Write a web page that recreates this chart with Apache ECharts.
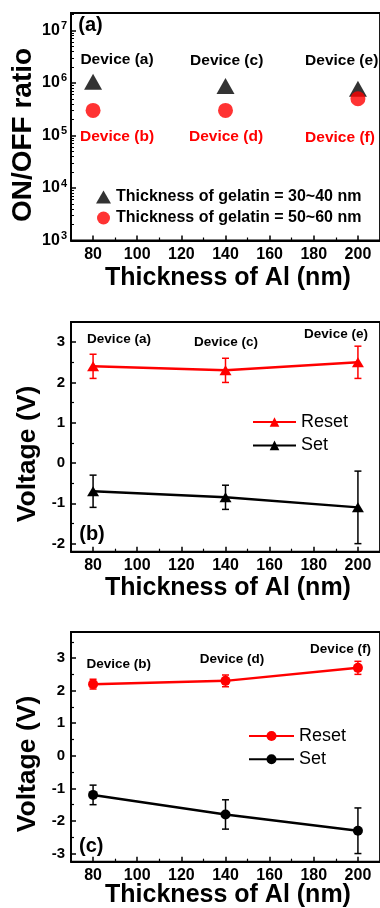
<!DOCTYPE html>
<html>
<head>
<meta charset="utf-8">
<script src="https://cdn.jsdelivr.net/npm/echarts@6/dist/echarts.min.js"></script>
<style>
  html, body { margin: 0; padding: 0; background: #fff; }
  #chart { width: 380px; height: 908px; }
</style>
</head>
<body>
<div id="chart"></div>
<script>
// Al electrode thickness (nm) of the three device pairs
const thickness = [80, 140, 200];

// (a) ON/OFF ratio
const ratioGelatinThin = [1.05e6, 8.8e5, 7.8e5];   // gelatin 30~40 nm
const ratioGelatinThick = [3.0e5, 3.0e5, 5.0e5];  // gelatin 50~60 nm

// (b) switching voltages, devices (a), (c), (e)
const resetB = [2.4, 2.3, 2.5];
const resetBErr = [0.3, 0.3, 0.4];
const setB = [-0.7, -0.85, -1.1];
const setBErr = [0.4, 0.3, 0.9];

// (c) switching voltages, devices (b), (d), (f)
const resetC = [2.2, 2.3, 2.7];
const resetCErr = [0.15, 0.18, 0.2];
const setC = [-1.2, -1.8, -2.3];
const setCErr = [0.3, 0.45, 0.7];

// tick values
const xTicks = [80, 100, 120, 140, 160, 180, 200];
const xMinorTicks = [90, 110, 130, 150, 170, 190];
const ratioTicks = [1e3, 1e4, 1e5, 1e6, 1e7];
const voltTicksB = [-2, -1, 0, 1, 2, 3];
const voltMinorB = [-1.5, -0.5, 0.5, 1.5, 2.5];
const voltTicksC = [-3, -2, -1, 0, 1, 2, 3];
const voltMinorC = [-2.5, -1.5, -0.5, 0.5, 1.5, 2.5, 3.5];

// annotation texts
const thinDeviceNames = ['Device (a)', 'Device (c)', 'Device (e)'];
const thickDeviceNames = ['Device (b)', 'Device (d)', 'Device (f)'];
const legendA = ['Thickness of gelatin = 30~40 nm', 'Thickness of gelatin = 50~60 nm'];
const xTitle = 'Thickness of Al (nm)';

const RATIO_MAX = 2.15e7;
const FONT = '"Liberation Sans", Arial, sans-serif';
const RED = '#ff0000';
const BLACK = '#000000';
const FRAME = 1.8;

// log-decade minor ticks 2..9 x 10^n
const ratioMinorTicks = [];
ratioTicks.forEach(d => { for (let k = 2; k <= 9; k++) if (d * k <= RATIO_MAX) ratioMinorTicks.push(d * k); });

const grids = [
  { left: 71, top: 13, width: 311.5, height: 227.5 },
  { left: 71, top: 322, width: 311.5, height: 229.7 },
  { left: 71, top: 632, width: 311.5, height: 229.7 }
].map(g => Object.assign(g, { show: true, borderColor: BLACK, borderWidth: FRAME, backgroundColor: 'transparent', containLabel: false }));

function xAxisPair(gi) {
  return [
    {
      type: 'value', gridIndex: gi, min: 70, max: 210, position: 'bottom',
      axisLine: { show: true, onZero: false, lineStyle: { color: BLACK, width: FRAME } },
      axisTick: { show: true, inside: true, length: 5, customValues: xTicks, lineStyle: { color: BLACK, width: 1.5 } },
      axisLabel: { customValues: xTicks, color: BLACK, fontSize: 16, fontWeight: 'bold', fontFamily: FONT, margin: 6 },
      splitLine: { show: false }
    },
    {
      type: 'value', gridIndex: gi, min: 70, max: 210, position: 'bottom',
      axisLine: { show: false, onZero: false },
      axisTick: { show: true, inside: true, length: 3, customValues: xMinorTicks, lineStyle: { color: BLACK, width: 1.2 } },
      axisLabel: { show: false },
      splitLine: { show: false }
    }
  ];
}

function yAxisPair(gi, min, max, ticks, minor) {
  return [
    {
      type: 'value', gridIndex: gi, min: min, max: max, position: 'left',
      axisLine: { show: true, onZero: false, lineStyle: { color: BLACK, width: FRAME } },
      axisTick: { show: true, inside: true, length: 5, customValues: ticks, lineStyle: { color: BLACK, width: 1.5 } },
      axisLabel: { customValues: ticks, color: BLACK, fontSize: 15, fontWeight: 'bold', fontFamily: FONT, margin: 6 },
      splitLine: { show: false }
    },
    {
      type: 'value', gridIndex: gi, min: min, max: max, position: 'left',
      axisLine: { show: false, onZero: false },
      axisTick: { show: true, inside: true, length: 3, customValues: minor, lineStyle: { color: BLACK, width: 1.2 } },
      axisLabel: { show: false },
      splitLine: { show: false }
    }
  ];
}

const yAxes = [
  {
    type: 'log', logBase: 10, gridIndex: 0, min: 1e3, max: RATIO_MAX, position: 'left',
    axisLine: { show: true, onZero: false, lineStyle: { color: BLACK, width: FRAME } },
    axisTick: { show: true, inside: true, length: 5, customValues: ratioTicks, lineStyle: { color: BLACK, width: 1.5 } },
    axisLabel: {
      customValues: ratioTicks, margin: 4, color: BLACK,
      formatter: v => '{b|10}{s|' + Math.round(Math.log10(v)) + '}',
      rich: {
        b: { fontSize: 16, fontWeight: 'bold', fontFamily: FONT, color: BLACK },
        s: { fontSize: 11, fontWeight: 'bold', fontFamily: FONT, color: BLACK, padding: [0, 0, 9, 1] }
      }
    },
    splitLine: { show: false }
  },
  {
    type: 'log', logBase: 10, gridIndex: 0, min: 1e3, max: RATIO_MAX, position: 'left',
    axisLine: { show: false, onZero: false },
    axisTick: { show: true, inside: true, length: 3, customValues: ratioMinorTicks, lineStyle: { color: BLACK, width: 1 } },
    axisLabel: { show: false },
    splitLine: { show: false }
  }
].concat(yAxisPair(1, -2.2, 3.5, voltTicksB, voltMinorB), yAxisPair(2, -3.25, 3.8, voltTicksC, voltMinorC));

const xAxes = [].concat(xAxisPair(0), xAxisPair(1), xAxisPair(2));

function pairs(ys) { return thickness.map((x, i) => [x, ys[i]]); }
function ranges(ys, errs) { return thickness.map((x, i) => [x, ys[i] - errs[i], ys[i] + errs[i]]); }

function errorBars(xi, yi, ys, errs, color) {
  return {
    type: 'custom', xAxisIndex: xi, yAxisIndex: yi, z: 1, silent: true,
    encode: { x: 0, y: [1, 2] },
    data: ranges(ys, errs),
    renderItem: (params, api) => {
      const hi = api.coord([api.value(0), api.value(2)]);
      const lo = api.coord([api.value(0), api.value(1)]);
      const hw = 3.5;
      const style = { stroke: color, lineWidth: 1.5 };
      return {
        type: 'group',
        children: [
          { type: 'line', shape: { x1: hi[0], y1: hi[1], x2: lo[0], y2: lo[1] }, style },
          { type: 'line', shape: { x1: hi[0] - hw, y1: hi[1], x2: hi[0] + hw, y2: hi[1] }, style },
          { type: 'line', shape: { x1: lo[0] - hw, y1: lo[1], x2: lo[0] + hw, y2: lo[1] }, style }
        ]
      };
    }
  };
}

function voltLine(name, xi, yi, ys, color, symbol, size) {
  return {
    type: 'line', name: name, xAxisIndex: xi, yAxisIndex: yi, z: 3,
    data: pairs(ys), symbol: symbol, symbolSize: size, showSymbol: true,
    lineStyle: { color: color, width: 2.5 },
    itemStyle: { color: color, borderWidth: 0 },
    emphasis: { disabled: true }
  };
}

const series = [
  {
    type: 'scatter', name: legendA[0], xAxisIndex: 0, yAxisIndex: 0,
    data: pairs(ratioGelatinThin), symbol: 'triangle', symbolSize: [18, 16],
    itemStyle: { color: BLACK }, z: 2
  },
  {
    type: 'scatter', name: legendA[1], xAxisIndex: 0, yAxisIndex: 0,
    data: pairs(ratioGelatinThick), symbol: 'circle', symbolSize: 15,
    itemStyle: { color: RED }, z: 3
  },
  errorBars(2, 2, resetB, resetBErr, RED),
  errorBars(2, 2, setB, setBErr, BLACK),
  voltLine('Reset|b', 2, 2, resetB, RED, 'triangle', [12, 10]),
  voltLine('Set|b', 2, 2, setB, BLACK, 'triangle', [12, 10]),
  errorBars(4, 4, resetC, resetCErr, RED),
  errorBars(4, 4, setC, setCErr, BLACK),
  voltLine('Reset|c', 4, 4, resetC, RED, 'circle', 10),
  voltLine('Set|c', 4, 4, setC, BLACK, 'circle', 10)
];

const legendName = n => n.split('|')[0];
const legends = [
  {
    data: legendA, orient: 'vertical', left: 91, top: 184, padding: 5, itemWidth: 15, itemHeight: 13, itemGap: 5,
    selectedMode: false, formatter: legendName,
    textStyle: { color: BLACK, fontSize: 16, fontWeight: 'bold', fontFamily: FONT, lineHeight: 16 }
  },
  {
    data: ['Reset|b', 'Set|b'], orient: 'vertical', left: 247, top: 408, padding: 5, itemWidth: 43, itemHeight: 12, itemGap: 5.4,
    selectedMode: false, formatter: legendName,
    textStyle: { color: BLACK, fontSize: 18, fontFamily: FONT, lineHeight: 18 }
  },
  {
    data: ['Reset|c', 'Set|c'], orient: 'vertical', left: 243, top: 722, padding: 5, itemWidth: 45, itemHeight: 12.5, itemGap: 5.3,
    selectedMode: false, formatter: legendName,
    textStyle: { color: BLACK, fontSize: 18, fontFamily: FONT, lineHeight: 18 }
  }
];

function text(str, x, y, size, color, opts) {
  return Object.assign({
    type: 'text', x: x, y: y, silent: true, z: 10,
    style: { text: str, fill: color, font: 'bold ' + size + 'px ' + FONT, align: 'center', verticalAlign: 'middle' }
  }, opts || {});
}

const graphics = [
  // panel tags
  text('(a)', 90.5, 25, 20, BLACK),
  text('(b)', 92, 534, 20, BLACK),
  text('(c)', 91.3, 846, 20, BLACK),
  // device names in (a)
  text(thinDeviceNames[0], 117, 60, 15.5, BLACK),
  text(thinDeviceNames[1], 226.7, 61, 15.5, BLACK),
  text(thinDeviceNames[2], 341.7, 61, 15.5, BLACK),
  text(thickDeviceNames[0], 117, 137, 15.5, RED),
  text(thickDeviceNames[1], 226, 137, 15.5, RED),
  text(thickDeviceNames[2], 340, 138, 15.5, RED),
  // device names in (b) and (c)
  text(thinDeviceNames[0], 119, 339, 13.5, BLACK),
  text(thinDeviceNames[1], 226, 342.3, 13.5, BLACK),
  text(thinDeviceNames[2], 336, 334.3, 13.5, BLACK),
  text(thickDeviceNames[0], 118.8, 664, 13.5, BLACK),
  text(thickDeviceNames[1], 232, 659.3, 13.5, BLACK),
  text(thickDeviceNames[2], 340.5, 649.3, 13.5, BLACK),
  // axis titles
  text(xTitle, 228, 278.5, 25, BLACK),
  text(xTitle, 228, 588, 25, BLACK),
  text(xTitle, 228, 895, 25, BLACK),
  text('ON/OFF ratio', 23.5, 135, 28, BLACK, { rotation: Math.PI / 2 }),
  text('Voltage (V)', 28, 454, 26.5, BLACK, { rotation: Math.PI / 2 }),
  text('Voltage (V)', 28, 764, 26.5, BLACK, { rotation: Math.PI / 2 })
];

const chart = echarts.init(document.getElementById('chart'), null, { renderer: 'canvas' });
chart.setOption({
  animation: false,
  backgroundColor: '#ffffff',
  textStyle: { fontFamily: FONT },
  grid: grids,
  xAxis: xAxes,
  yAxis: yAxes,
  legend: legends,
  series: series,
  graphic: graphics
});
</script>
</body>
</html>
